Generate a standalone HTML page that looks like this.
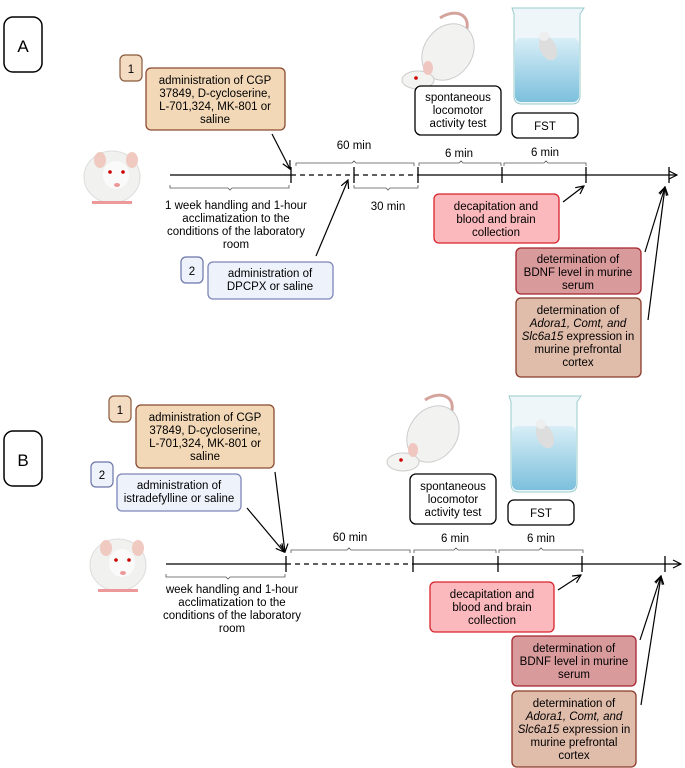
<!DOCTYPE html>
<html><head><meta charset="utf-8"><style>
html,body{margin:0;padding:0;background:#fff;}
svg{display:block;font-family:"Liberation Sans",sans-serif;}
</style></head><body>
<svg width="685" height="768" viewBox="0 0 685 768" xmlns="http://www.w3.org/2000/svg">
<defs>
<marker id="ah" markerWidth="10" markerHeight="10" refX="9" refY="5" orient="auto" markerUnits="userSpaceOnUse">
<path d="M1,1 L9,5 L1,9" fill="none" stroke="#000" stroke-width="1.2"/></marker>
<linearGradient id="wat" x1="0" y1="0" x2="0" y2="1"><stop offset="0" stop-color="#d8eef7"/><stop offset="1" stop-color="#7cc0dc"/></linearGradient>
<g id="rat">
<ellipse cx="32" cy="32" rx="28" ry="26" fill="#f1f1ef" stroke="#ddd"/>
<ellipse cx="36" cy="30" rx="13" ry="14" fill="#fafafa"/>
<ellipse cx="20" cy="15" rx="6" ry="8" fill="#f0c9c0"/>
<ellipse cx="52" cy="15" rx="6" ry="8" fill="#f0c9c0"/>
<circle cx="30" cy="27" r="1.8" fill="#c00"/><circle cx="43" cy="27" r="1.8" fill="#c00"/>
<ellipse cx="37" cy="40" rx="3" ry="2" fill="#e99"/>
<rect x="12" y="56" width="40" height="3" fill="#e99"/>
</g>
<g id="mouse">
<path d="M40,8 C55,-2 72,4 66,22" fill="none" stroke="#d3a39c" stroke-width="3"/>
<ellipse cx="48" cy="42" rx="24" ry="30" fill="#f2f2f0" stroke="#ccc" transform="rotate(35 48 42)"/>
<ellipse cx="18" cy="70" rx="16" ry="9" fill="#f3f3f1" stroke="#ccc"/>
<ellipse cx="28" cy="58" rx="5" ry="7" fill="#efc7c0"/>
<circle cx="16" cy="68" r="1.8" fill="#c00"/>
</g>
<g id="beaker">
<path d="M4,0 L76,0 L72,6 L72,88 Q72,96 64,96 L14,96 Q6,96 6,88 L6,6 Z" fill="#eef6fa" stroke="#9cc" stroke-width="1"/>
<rect x="7" y="30" width="64" height="64" rx="6" fill="url(#wat)"/>
<ellipse cx="40" cy="40" rx="8" ry="13" fill="#ddd" transform="rotate(-25 40 40)"/>
<circle cx="36" cy="28" r="5" fill="#eee"/>
</g>
</defs>

<!-- Panel A -->
<rect x="4" y="17" width="38" height="55" rx="9" fill="#fff" stroke="#000" stroke-width="1.5"/>
<text x="23" y="52" font-size="17" text-anchor="middle">A</text>
<use href="#rat" x="80" y="145"/>
<use href="#mouse" x="400" y="10"/>
<use href="#beaker" x="508" y="8"/>

<rect x="120" y="55" width="22" height="26" rx="5" fill="#f3dcc2" stroke="#8a5a3c" stroke-width="1.2"/>
<text x="131" y="73" font-size="11.5" text-anchor="middle">1</text>
<rect x="146" y="68" width="139" height="62" rx="5" fill="#f2d8b7" stroke="#8a4a30" stroke-width="1.3"/>
<text font-size="11.5" text-anchor="middle"><tspan x="215" y="84">administration of CGP</tspan><tspan x="215" y="97">37849, D-cycloserine,</tspan><tspan x="215" y="110">L-701,324, MK-801 or</tspan><tspan x="215" y="123">saline</tspan></text>

<rect x="415" y="86" width="86" height="49" rx="6" fill="#fff" stroke="#000" stroke-width="1.3"/>
<text font-size="11.5" text-anchor="middle"><tspan x="458" y="101">spontaneous</tspan><tspan x="458" y="114">locomotor</tspan><tspan x="458" y="127">activity test</tspan></text>
<rect x="512" y="113" width="66" height="25" rx="6" fill="#fff" stroke="#000" stroke-width="1.3"/>
<text x="545" y="130" font-size="11.5" text-anchor="middle">FST</text>

<line x1="170" y1="175" x2="291" y2="175" stroke="#000" stroke-width="1.3"/>
<line x1="291" y1="175" x2="418" y2="175" stroke="#000" stroke-width="1.3" stroke-dasharray="5,4"/>
<line x1="418" y1="175" x2="677" y2="175" stroke="#000" stroke-width="1.3" marker-end="url(#ah)"/>
<g stroke="#000" stroke-width="1.3"><line x1="291" y1="167" x2="291" y2="183"/><line x1="354" y1="167" x2="354" y2="183"/><line x1="418" y1="167" x2="418" y2="183"/><line x1="502" y1="167" x2="502" y2="183"/><line x1="586" y1="167" x2="586" y2="183"/><line x1="669" y1="167" x2="669" y2="183"/></g>
<g fill="none" stroke="#555" stroke-width="0.8">
<path d="M296,166 v-3 h56 l2,-2 l2,2 h58 v3"/>
<path d="M419,166 v-3 h40 l2,-2 l2,2 h38 v3"/>
<path d="M504,166 v-3 h40 l2,-2 l2,2 h38 v3"/>
<path d="M170,185 v3 h58 l2,2 l2,-2 h57 v-3"/>
<path d="M354,185 v3 h32 l2,2 l2,-2 h28 v-3"/>
</g>
<g font-size="11.5" text-anchor="middle">
<text x="354" y="149">60 min</text><text x="459" y="157">6 min</text><text x="545" y="156">6 min</text>
<text x="388" y="210">30 min</text>
<text><tspan x="236" y="209">1 week handling and 1-hour</tspan><tspan x="236" y="222">acclimatization to the</tspan><tspan x="236" y="235">conditions of the laboratory</tspan><tspan x="236" y="248">room</tspan></text>
</g>

<rect x="434" y="194" width="125" height="49" rx="5" fill="#fbb9bd" stroke="#d9232c" stroke-width="1.3"/>
<text font-size="11.5" text-anchor="middle"><tspan x="496" y="210">decapitation and</tspan><tspan x="496" y="223">blood and brain</tspan><tspan x="496" y="236">collection</tspan></text>

<rect x="181" y="257" width="22" height="26" rx="5" fill="#eef2fa" stroke="#6a76a8" stroke-width="1.2"/>
<text x="192" y="275" font-size="11.5" text-anchor="middle">2</text>
<rect x="208" y="262" width="125" height="37" rx="5" fill="#eef2fb" stroke="#7d86b8" stroke-width="1.3"/>
<text font-size="11.5" text-anchor="middle"><tspan x="270" y="277">administration of</tspan><tspan x="270" y="290">DPCPX or saline</tspan></text>

<rect x="516" y="248" width="125" height="46" rx="5" fill="#d99a9c" stroke="#a5262e" stroke-width="1.3"/>
<text font-size="11.5" text-anchor="middle"><tspan x="578" y="263">determination of</tspan><tspan x="578" y="276">BDNF level in murine</tspan><tspan x="578" y="289">serum</tspan></text>
<rect x="516" y="298" width="125" height="79" rx="5" fill="#e0bcab" stroke="#8a3a28" stroke-width="1.3"/>
<text font-size="11.5" text-anchor="middle"><tspan x="578" y="314">determination of</tspan><tspan x="578" y="327" font-style="italic">Adora1, Comt, and</tspan><tspan x="578" y="340"><tspan font-style="italic">Slc6a15</tspan> expression in</tspan><tspan x="578" y="353">murine prefrontal</tspan><tspan x="578" y="366">cortex</tspan></text>

<g stroke="#000" stroke-width="1.2" fill="none" marker-end="url(#ah)">
<line x1="272" y1="134" x2="290" y2="169"/>
<line x1="316" y1="256" x2="348" y2="180"/>
<line x1="563" y1="202" x2="584" y2="186"/>
<line x1="645" y1="252" x2="665" y2="187"/>
<line x1="648" y1="320" x2="665" y2="187"/>
</g>

<!-- Panel B -->
<rect x="4" y="431" width="38" height="55" rx="9" fill="#fff" stroke="#000" stroke-width="1.5"/>
<text x="23" y="466" font-size="17" text-anchor="middle">B</text>
<use href="#rat" x="86" y="533"/>
<use href="#mouse" x="385" y="392"/>
<use href="#beaker" x="505" y="396"/>

<rect x="109" y="396" width="22" height="26" rx="5" fill="#f3dcc2" stroke="#8a5a3c" stroke-width="1.2"/>
<text x="120" y="414" font-size="11.5" text-anchor="middle">1</text>
<rect x="136" y="405" width="138" height="63" rx="5" fill="#f2d8b7" stroke="#8a4a30" stroke-width="1.3"/>
<text font-size="11.5" text-anchor="middle"><tspan x="205" y="421">administration of CGP</tspan><tspan x="205" y="434">37849, D-cycloserine,</tspan><tspan x="205" y="447">L-701,324, MK-801 or</tspan><tspan x="205" y="460">saline</tspan></text>
<rect x="91" y="462" width="22" height="25" rx="5" fill="#eef2fa" stroke="#6a76a8" stroke-width="1.2"/>
<text x="102" y="479" font-size="11.5" text-anchor="middle">2</text>
<rect x="117" y="474" width="124" height="37" rx="5" fill="#eef2fb" stroke="#7d86b8" stroke-width="1.3"/>
<text font-size="11.5" text-anchor="middle"><tspan x="179" y="489">administration of</tspan><tspan x="179" y="502">istradefylline or saline</tspan></text>

<rect x="410" y="474" width="86" height="50" rx="6" fill="#fff" stroke="#000" stroke-width="1.3"/>
<text font-size="11.5" text-anchor="middle"><tspan x="453" y="490">spontaneous</tspan><tspan x="453" y="503">locomotor</tspan><tspan x="453" y="516">activity test</tspan></text>
<rect x="508" y="500" width="66" height="25" rx="6" fill="#fff" stroke="#000" stroke-width="1.3"/>
<text x="541" y="517" font-size="11.5" text-anchor="middle">FST</text>

<line x1="166" y1="564" x2="286" y2="564" stroke="#000" stroke-width="1.3"/>
<line x1="286" y1="564" x2="413" y2="564" stroke="#000" stroke-width="1.3" stroke-dasharray="5,4"/>
<line x1="413" y1="564" x2="681" y2="564" stroke="#000" stroke-width="1.3" marker-end="url(#ah)"/>
<g stroke="#000" stroke-width="1.3"><line x1="286" y1="556" x2="286" y2="572"/><line x1="413" y1="556" x2="413" y2="572"/><line x1="498" y1="556" x2="498" y2="572"/><line x1="582" y1="556" x2="582" y2="572"/><line x1="665" y1="556" x2="665" y2="572"/></g>
<g fill="none" stroke="#555" stroke-width="0.8">
<path d="M291,553 v-3 h56 l2,-2 l2,2 h59 v3"/>
<path d="M414,553 v-3 h40 l2,-2 l2,2 h38 v3"/>
<path d="M499,553 v-3 h40 l2,-2 l2,2 h40 v3"/>
<path d="M166,574 v3 h60 l2,2 l2,-2 h55 v-3"/>
</g>
<g font-size="11.5" text-anchor="middle">
<text x="350" y="541">60 min</text><text x="455" y="542">6 min</text><text x="541" y="542">6 min</text>
<text><tspan x="232" y="593">week handling and 1-hour</tspan><tspan x="232" y="606">acclimatization to the</tspan><tspan x="232" y="619">conditions of the laboratory</tspan><tspan x="232" y="632">room</tspan></text>
</g>

<rect x="430" y="582" width="124" height="50" rx="5" fill="#fbb9bd" stroke="#d9232c" stroke-width="1.3"/>
<text font-size="11.5" text-anchor="middle"><tspan x="492" y="598">decapitation and</tspan><tspan x="492" y="611">blood and brain</tspan><tspan x="492" y="624">collection</tspan></text>
<rect x="512" y="636" width="124" height="50" rx="5" fill="#d99a9c" stroke="#a5262e" stroke-width="1.3"/>
<text font-size="11.5" text-anchor="middle"><tspan x="574" y="652">determination of</tspan><tspan x="574" y="665">BDNF level in murine</tspan><tspan x="574" y="678">serum</tspan></text>
<rect x="512" y="691" width="124" height="76" rx="5" fill="#e0bcab" stroke="#8a3a28" stroke-width="1.3"/>
<text font-size="11.5" text-anchor="middle"><tspan x="574" y="707">determination of</tspan><tspan x="574" y="720" font-style="italic">Adora1, Comt, and</tspan><tspan x="574" y="733"><tspan font-style="italic">Slc6a15</tspan> expression in</tspan><tspan x="574" y="746">murine prefrontal</tspan><tspan x="574" y="759">cortex</tspan></text>

<g stroke="#000" stroke-width="1.2" fill="none" marker-end="url(#ah)">
<line x1="275" y1="472" x2="285" y2="552"/>
<line x1="247" y1="508" x2="284" y2="552"/>
<line x1="558" y1="590" x2="581" y2="575"/>
<line x1="640" y1="640" x2="661" y2="576"/>
<line x1="641" y1="705" x2="661" y2="576"/>
</g>
</svg>
</body></html>
